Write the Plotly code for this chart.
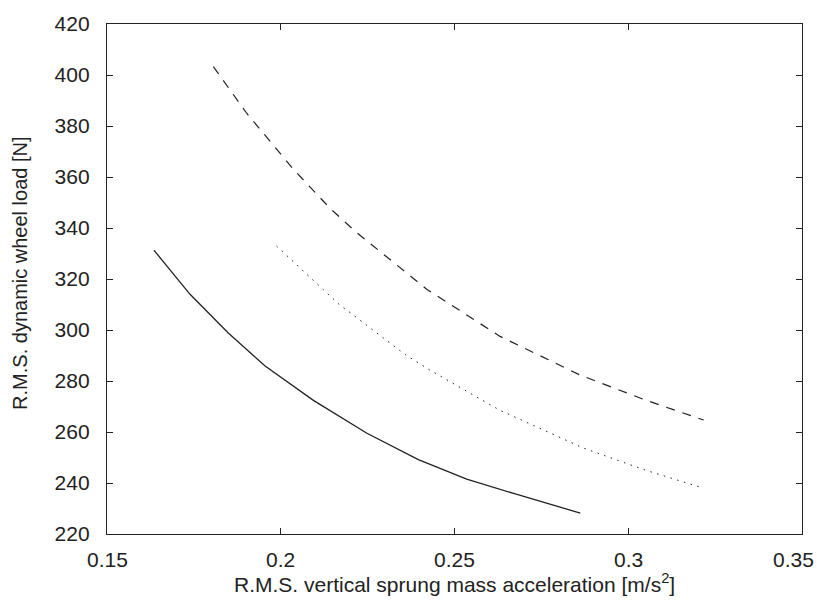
import plotly.graph_objects as go

# Solid curve
solid_x = [0.1635, 0.1739, 0.1849, 0.1955, 0.2094, 0.2248, 0.2396, 0.2535, 0.2670, 0.2862]
solid_y = [331.3, 314.0, 298.8, 285.9, 272.4, 259.5, 249.2, 241.5, 235.9, 228.2]

# Dashed curve
dash_x = [0.1806, 0.1902, 0.2036, 0.2142, 0.2214, 0.2420, 0.2631, 0.2862, 0.3050, 0.3217]
dash_y = [403.3, 385.0, 363.1, 347.7, 338.7, 316.0, 297.5, 282.3, 272.5, 264.7]

# Dotted curve
dot_x = [0.1988, 0.2104, 0.2166, 0.2358, 0.2425, 0.2631, 0.2871, 0.3050, 0.3216]
dot_y = [332.9, 318.1, 310.3, 290.4, 284.6, 268.5, 253.7, 245.0, 238.0]

x_ticks = [0.15, 0.2, 0.25, 0.3, 0.35]
x_labels = ["0.15", "0.2", "0.25", "0.3", "0.35"]
y_ticks = [220, 240, 260, 280, 300, 320, 340, 360, 380, 400, 420]

line_col = "#222222"
font = dict(family="Liberation Sans, Arial, sans-serif", size=21, color="#222222")

fig = go.Figure()
fig.add_trace(go.Scatter(x=solid_x, y=solid_y, mode="lines",
                         line=dict(color=line_col, width=1.3), showlegend=False))
fig.add_trace(go.Scatter(x=dash_x, y=dash_y, mode="lines",
                         line=dict(color=line_col, width=1.2, dash="9px,8px"), showlegend=False))
fig.add_trace(go.Scatter(x=dot_x, y=dot_y, mode="lines",
                         line=dict(color=line_col, width=1.0, dash="1.5px,5.5px"), showlegend=False))

axis_common = dict(showgrid=False, zeroline=False, showline=True, linecolor="#222222",
                   linewidth=1.3, mirror="ticks", ticks="inside", ticklen=6,
                   tickwidth=1.3, tickcolor="#222222", tickfont=font)

fig.update_xaxes(range=[0.15, 0.35], tickvals=x_ticks, showticklabels=False, **axis_common)
fig.update_yaxes(range=[220, 420], tickvals=y_ticks, ticklabelstandoff=12, **axis_common)

# x tick labels (last one nudged left to stay inside the page, as in the reference)
for i, (v, lab) in enumerate(zip(x_ticks, x_labels)):
    fig.add_annotation(text=lab, xref="x", yref="paper", x=v, y=0, yshift=-25,
                       xshift=(-9 if i == len(x_ticks) - 1 else 0),
                       xanchor="center", yanchor="middle", showarrow=False, font=font)

fig.add_annotation(text="R.M.S. vertical sprung mass acceleration [m/s<sup>2</sup>]",
                   xref="paper", yref="paper", x=0.5, y=0, yshift=-49,
                   xanchor="center", yanchor="middle", showarrow=False, font=font)
fig.add_annotation(text="R.M.S. dynamic wheel load [N]",
                   xref="paper", yref="paper", x=0, xshift=-87, y=0.51,
                   xanchor="center", yanchor="middle", textangle=-90,
                   showarrow=False, font=dict(family=font["family"], size=20, color="#222222"))

fig.update_layout(width=817, height=603, margin=dict(l=107, r=15, t=16, b=69),
                  plot_bgcolor="white", paper_bgcolor="white")

fig.write_html("out.html")
